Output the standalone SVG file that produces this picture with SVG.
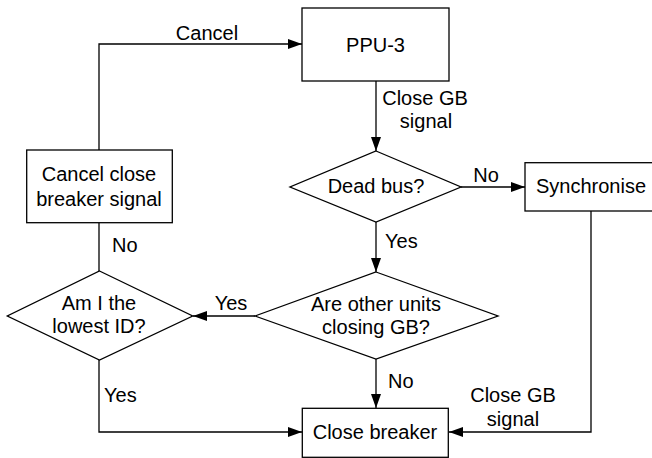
<svg xmlns="http://www.w3.org/2000/svg" width="652" height="458" viewBox="0 0 652 458">
<style>
.box{fill:#fff;stroke:#000;stroke-width:1.3}
.ln{fill:none;stroke:#000;stroke-width:1.3}
text{font-family:"Liberation Sans",Arial,sans-serif;font-size:20px;fill:#000}
.m{text-anchor:middle}
</style>
<defs>
<marker id="arr" markerUnits="userSpaceOnUse" markerWidth="15" markerHeight="11" refX="14" refY="5" orient="auto">
<path d="M0,0 L14,5 L0,10 z" fill="#000"/>
</marker>
</defs>
<rect width="652" height="458" fill="#fff"/>
<g id="connectors">
<path class="ln" d="M99,150 V44 H302" marker-end="url(#arr)"/>
<path class="ln" d="M376,81 V151" marker-end="url(#arr)"/>
<path class="ln" d="M461,187 H525" marker-end="url(#arr)"/>
<path class="ln" d="M376,222 V272" marker-end="url(#arr)"/>
<path class="ln" d="M255,316 H193" marker-end="url(#arr)"/>
<path class="ln" d="M376,359 V408" marker-end="url(#arr)"/>
<path class="ln" d="M99,271 V223"/>
<path class="ln" d="M99,360 V432 H302" marker-end="url(#arr)"/>
<path class="ln" d="M591,211 V432 H449" marker-end="url(#arr)"/>
<text class="m" x="207" y="40">Cancel</text>
<text class="m" x="425" y="105">Close GB</text>
<text class="m" x="426" y="128">signal</text>
<text class="m" x="486" y="182">No</text>
<text x="385" y="248">Yes</text>
<text class="m" x="231" y="310">Yes</text>
<text x="388" y="388">No</text>
<text class="m" x="513" y="402">Close GB</text>
<text class="m" x="513" y="426">signal</text>
<text x="112" y="252">No</text>
<text x="104" y="402">Yes</text>
</g>
<g id="ppu3">
<rect class="box" x="302" y="8" width="147" height="73"/>
<text class="m" x="375.5" y="51.5">PPU-3</text>
</g>
<g id="cancel-close">
<rect class="box" x="26.7" y="150" width="145.6" height="72.7"/>
<text class="m" x="99" y="181">Cancel close</text>
<text class="m" x="99" y="205.7">breaker signal</text>
</g>
<g id="dead-bus">
<polygon class="box" points="376,151 461,187 376,222 290,187"/>
<text class="m" x="376" y="193">Dead bus?</text>
</g>
<g id="synchronise">
<rect class="box" x="525" y="162.7" width="147" height="48.3"/>
<text class="m" x="591" y="193">Synchronise</text>
</g>
<g id="other-units">
<polygon class="box" points="376,272 498,316 376,359 255,316"/>
<text class="m" x="376" y="310.7">Are other units</text>
<text class="m" x="376" y="334">closing GB?</text>
</g>
<g id="lowest-id">
<polygon class="box" points="99.5,271 192.7,316 99.5,360 7.3,316"/>
<text class="m" x="99" y="310">Am I the</text>
<text class="m" x="99" y="333">lowest ID?</text>
</g>
<g id="close-breaker">
<rect class="box" x="302.3" y="408.3" width="146" height="49"/>
<text class="m" x="375" y="439">Close breaker</text>
</g>
</svg>
